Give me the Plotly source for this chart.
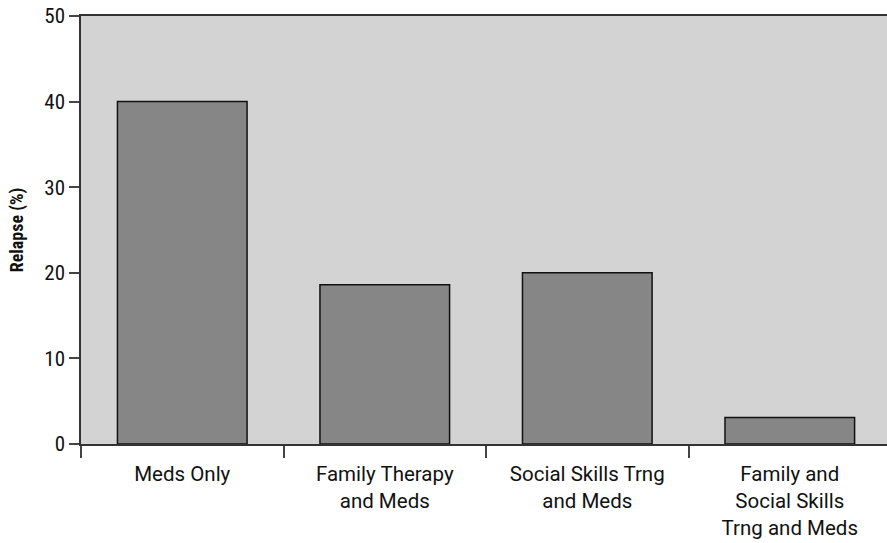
import plotly.graph_objects as go

categories = ["Meds Only", "Family Therapy<br>and Meds", "Social Skills Trng<br>and Meds",
              "Family and<br>Social Skills<br>Trng and Meds"]
relapse = [40, 18.6, 20, 3.1]
y_ticks = [0, 10, 20, 30, 40, 50]

FONT = "Roboto, Liberation Sans, sans-serif"
NARROW = "Roboto Condensed, Liberation Sans Narrow, DejaVu Sans Condensed, Roboto, sans-serif"

fig = go.Figure(go.Bar(
    x=categories, y=relapse,
    marker=dict(color="#868686", line=dict(color="#111111", width=1.5)),
))

fig.update_layout(
    width=887, height=543,
    margin=dict(l=81, r=0, t=16, b=99),
    paper_bgcolor="white", plot_bgcolor="#d3d3d3",
    bargap=0.36, showlegend=False,
    font=dict(family=FONT, size=20, color="#111111"),
)
fig.update_xaxes(
    range=[-0.5, 3.48], tickson="boundaries", ticks="outside", ticklen=12,
    tickcolor="#444444", tickwidth=1.5, showline=True, linecolor="#333333", linewidth=1.5,
    mirror=True, showgrid=False, tickfont=dict(size=20.5, family=FONT),
    ticklabelstandoff=11,
)
fig.update_yaxes(
    range=[0, 50], tickvals=y_ticks, ticks="outside", ticklen=10,
    tickcolor="#444444", tickwidth=1.5, showline=True, linecolor="#333333", linewidth=1.5,
    showgrid=False, zeroline=False, tickfont=dict(size=21, family=NARROW),
    title=dict(text="<b>Relapse (%)</b>", font=dict(size=18, family=NARROW), standoff=16),
)
fig.write_html(
    "out.html",
    config={"displayModeBar": False},
    post_script="document.body.style.margin='0';document.documentElement.style.overflow='hidden';document.body.style.overflow='hidden';",
)
